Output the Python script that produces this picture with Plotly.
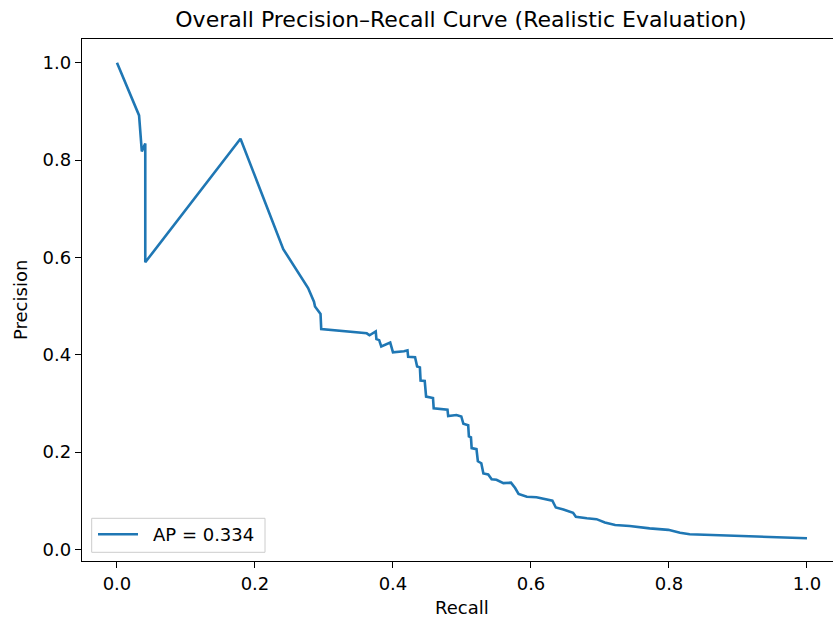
import plotly.graph_objects as go

recall = [0.0, 0.032, 0.036, 0.041, 0.041, 0.179, 0.241, 0.277, 0.2855, 0.287,
          0.295, 0.296, 0.362, 0.366, 0.375, 0.376, 0.380, 0.383, 0.396, 0.400,
          0.416, 0.421, 0.422, 0.432, 0.435, 0.439, 0.440, 0.446, 0.448, 0.458,
          0.459, 0.467, 0.479, 0.480, 0.492, 0.499, 0.502, 0.509, 0.510, 0.513,
          0.514, 0.521, 0.523, 0.528, 0.531, 0.538, 0.543, 0.550, 0.560, 0.571,
          0.577, 0.582, 0.594, 0.608, 0.623, 0.631, 0.636, 0.647, 0.661, 0.665,
          0.681, 0.695, 0.707, 0.722, 0.743, 0.772, 0.799, 0.816, 0.830, 0.869,
          0.917, 0.946, 1.0]
precision = [1.0, 0.892, 0.818, 0.834, 0.590, 0.844, 0.617, 0.537, 0.509, 0.499,
             0.484, 0.453, 0.444, 0.440, 0.448, 0.432, 0.430, 0.417, 0.425, 0.405,
             0.407, 0.409, 0.396, 0.395, 0.376, 0.374, 0.347, 0.346, 0.314, 0.311,
             0.290, 0.289, 0.287, 0.274, 0.276, 0.273, 0.258, 0.255, 0.232, 0.230,
             0.208, 0.206, 0.181, 0.177, 0.156, 0.154, 0.144, 0.143, 0.136, 0.137,
             0.126, 0.114, 0.108, 0.107, 0.103, 0.100, 0.086, 0.082, 0.075, 0.067,
             0.064, 0.062, 0.055, 0.050, 0.048, 0.043, 0.040, 0.034, 0.031, 0.029,
             0.028, 0.025, 0.0227]
ap_label = "AP = 0.334"
tick_vals = [0.0, 0.2, 0.4, 0.6, 0.8, 1.0]
tick_text = ["0.0", "0.2", "0.4", "0.6", "0.8", "1.0"]

FONT = "DejaVu Sans"
TXT = "black"
LINE_COLOR = "#1f77b4"
W, H = 833, 622
L, R, T, B = 82, 0, 39, 61
pw, ph = W - L - R, H - T - B


def px(x):
    return (x - L) / pw


def py(y):
    return (H - B - y) / ph


fig = go.Figure()
fig.add_trace(go.Scatter(x=recall, y=precision, mode="lines", name=ap_label,
                         line=dict(color=LINE_COLOR, width=2.6), showlegend=False))

axis_common = dict(showgrid=False, zeroline=False, showline=True, linecolor="black",
                   linewidth=1.3, ticks="outside", ticklen=6, tickwidth=1.3,
                   tickcolor="black", tickvals=tick_vals, ticktext=tick_text,
                   automargin=False,
                   tickfont=dict(family=FONT, size=18, color=TXT))

fig.update_layout(
    width=W, height=H,
    margin=dict(l=L, r=R, t=T, b=B, pad=0),
    paper_bgcolor="white", plot_bgcolor="white",
    font=dict(family=FONT, size=18, color=TXT),
    title=dict(text="Overall Precision\u2013Recall Curve (Realistic Evaluation)",
               font=dict(family=FONT, size=22, color=TXT),
               x=461 / W, xanchor="center", xref="container",
               y=1 - 19 / H, yanchor="middle", yref="container"),
    xaxis=dict(range=[-0.0507, 1.0377], mirror=True, **axis_common),
    yaxis=dict(range=[-0.024, 1.049], mirror=False, **axis_common),
    showlegend=False,
)

# legend box drawn like matplotlib's (frame, line sample, label)
fig.add_shape(type="rect", xref="paper", yref="paper",
              x0=px(91.7), x1=px(265), y0=py(552.3), y1=py(518.3),
              line=dict(color="#cccccc", width=1), fillcolor="rgba(255,255,255,0.8)")
fig.add_shape(type="line", xref="paper", yref="paper",
              x0=px(98), x1=px(138), y0=py(534.3), y1=py(534.3),
              line=dict(color=LINE_COLOR, width=2.6))

fig.update_layout(annotations=[
    dict(text=ap_label, x=px(150.5), y=py(534.5), xref="paper", yref="paper",
         xanchor="left", yanchor="middle", showarrow=False,
         font=dict(family=FONT, size=18, color=TXT)),
    dict(text="Recall", x=px(462), y=py(607), xref="paper", yref="paper",
         xanchor="center", yanchor="middle", showarrow=False,
         font=dict(family=FONT, size=18, color=TXT)),
    dict(text="Precision", x=px(20), y=py(300), xref="paper", yref="paper",
         xanchor="center", yanchor="middle", showarrow=False, textangle=-90,
         font=dict(family=FONT, size=18, color=TXT)),
])

fig.write_html("out.html",
               config={"displayModeBar": False},
               post_script="document.body.style.margin='0';"
                           "document.documentElement.style.overflow='hidden';")
